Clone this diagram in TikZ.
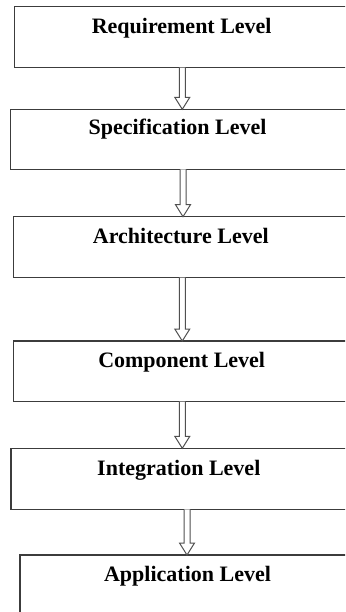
\documentclass[tikz,border=0pt]{standalone}
\usepackage{fontspec}
\setmainfont{Liberation Serif}
\usetikzlibrary{calc}
\definecolor{boxgray}{HTML}{3C3C3C}
\definecolor{arrgray}{HTML}{505050}
\newcommand\hollowarrow[2]{%
  \draw[arr] let \p1=(#1), \p2=(#2) in
    (\x1-3pt,\y1) -- (\x1-3pt,\y2+12pt) -- (\x1-7.5pt,\y2+12pt) -- (\x1,\y2)
    -- (\x1+7.5pt,\y2+12pt) -- (\x1+3pt,\y2+12pt) -- (\x1+3pt,\y1);}
\begin{document}
\begin{tikzpicture}[x=1pt,y=-1pt,
  box/.style={draw=boxgray, line width=1.5pt, fill=white, anchor=north west,
    inner sep=0pt, outer sep=0pt, minimum width=400pt},
  lbl/.style={anchor=base, inner sep=0pt, font=\bfseries\fontsize{22}{26}\selectfont},
  arr/.style={draw=arrgray, line width=1pt, fill=white}]
\useasboundingbox (0,0) rectangle (345,612);
\clip (0,0) rectangle (345,612);
\node[box, minimum height=61pt] (b1) at (14.5,6.7) {};
\node[box, minimum height=60pt] (b2) at (10.3,109.3) {};
\node[box, minimum height=61pt] (b3) at (13.3,216.7) {};
\node[box, minimum height=60.7pt] (b4) at (13.3,341) {};
\node[box, minimum height=61pt] (b5) at (11,448.3) {};
\node[box, minimum height=80pt] (b6) at (20,555) {};
\node[lbl] (t1) at (181.7,33.3) {Requirement Level};
\node[lbl] (t2) at (177.5,135) {Specification Level};
\node[lbl] (t3) at (180.8,243.3) {Architecture Level};
\node[lbl] (t4) at (181.7,367.7) {Component Level};
\node[lbl] (t5) at (178.8,475) {Integration Level};
\node[lbl] (t6) at (187.5,581.7) {Application Level};
\coordinate (a1) at ([xshift=167.8pt]b1.south west);
\coordinate (a2) at ([xshift=172.7pt]b2.south west);
\coordinate (a3) at ([xshift=169pt]b3.south west);
\coordinate (a4) at ([xshift=169pt]b4.south west);
\coordinate (a5) at ([xshift=176pt]b5.south west);
\hollowarrow{a1}{a1 |- b2.north}
\hollowarrow{a2}{a2 |- b3.north}
\hollowarrow{a3}{a3 |- b4.north}
\hollowarrow{a4}{a4 |- b5.north}
\hollowarrow{a5}{a5 |- b6.north}
\end{tikzpicture}
\end{document}
